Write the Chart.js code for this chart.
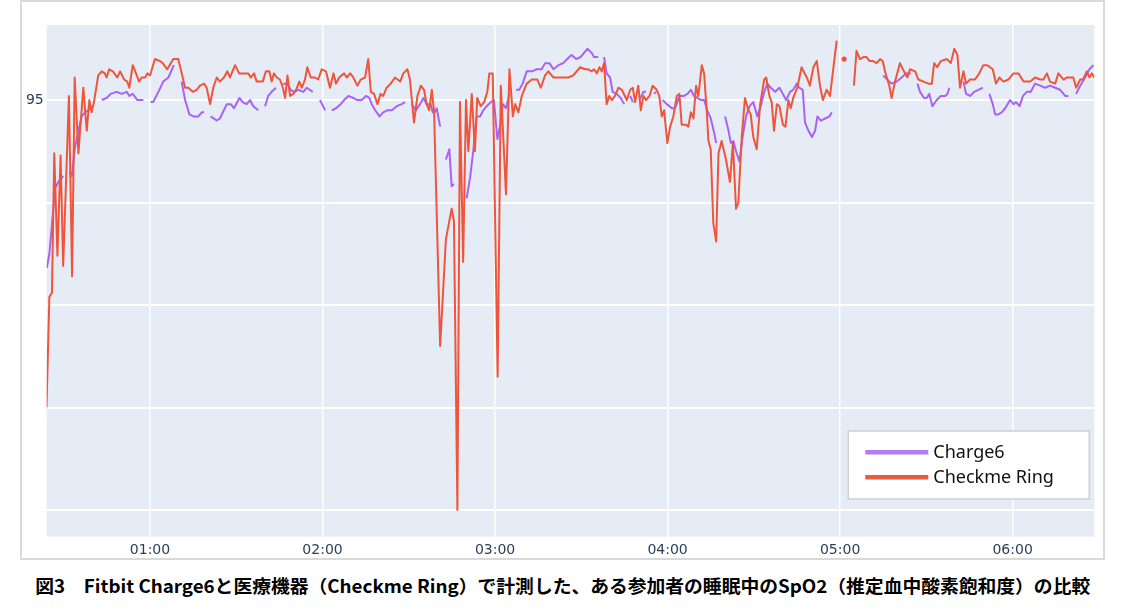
<!DOCTYPE html>
<html>
<head>
<meta charset="utf-8">
<script src="https://cdn.jsdelivr.net/npm/chart.js@4/dist/chart.umd.min.js"></script>
<style>
  html, body { margin: 0; padding: 0; background: #fff; }
  #wrap { position: relative; width: 1125px; height: 610px; overflow: hidden; }
  #chart { position: absolute; left: 0; top: 0; }
  #frame { position: absolute; left: 20px; top: 0; width: 1081px; height: 556px; border: 2px solid #d9d9d9; pointer-events: none; }
  #caption { position: absolute; left: 0; top: 573px; width: 1125px; text-align: center; line-height: 24px;
             font-family: "Noto Sans CJK JP", sans-serif; font-weight: 700; font-size: 18px; color: #000; white-space: nowrap; }
  #caption span { display: inline-block; transform-origin: center center; }
</style>
</head>
<body>
<div id="wrap">
  <canvas id="chart" width="1125" height="560"></canvas>
  <div id="frame"></div>
  <div id="caption"><span id="captionText">図3　Fitbit Charge6と医療機器（Checkme Ring）で計測した、ある参加者の睡眠中のSpO2（推定血中酸素飽和度）の比較</span></div>
</div>
<script>
// minutes after midnight, SpO2 (%) ; null = no reading
var checkmeTime = [
  24.0,25.0,25.9,26.7,27.8,28.9,29.8,31.8,32.9,33.8,
  35.1,36.8,38.0,38.9,39.7,40.5,42.0,43.2,44.3,44.9,
  45.8,47.1,48.6,49.6,51.0,52.1,52.8,54.0,55.4,56.2,
  57.1,58.3,59.1,60.0,61.7,63.5,64.4,66.0,68.1,69.8,
  70.7,72.2,73.3,74.9,76.2,77.4,78.8,79.7,80.9,82.0,
  83.2,84.3,85.7,86.9,87.8,89.6,91.0,92.7,94.2,95.0,
  96.2,97.1,99.2,100.3,101.5,102.3,103.1,104.1,105.2,106.2,
  107.0,107.8,108.7,109.8,110.8,111.9,112.8,113.9,114.7,115.9,
  117.4,118.5,119.7,121.2,122.6,123.8,124.7,125.8,127.5,128.4,
  129.6,130.7,132.1,133.3,134.8,135.9,136.8,137.9,139.1,140.2,
  141.1,142.3,143.7,145.2,147.0,148.1,149.5,150.4,151.8,153.0,
  154.2,155.3,156.2,157.1,158.0,158.8,160.9,162.9,164.9,165.7,
  166.9,167.8,168.9,169.9,170.7,171.9,173.0,173.8,175.0,176.2,
  177.3,178.0,179.2,180.9,182.0,183.8,185.0,186.2,187.0,188.1,
  189.3,191.0,192.8,194.7,195.9,197.4,198.5,200.3,202.0,203.7,
  205.5,207.2,209.6,211.3,212.4,213.6,214.4,215.4,216.3,217.1,
  217.9,218.8,219.7,220.6,221.7,222.9,224.1,225.8,227.0,227.9,
  228.7,229.8,230.7,231.6,232.5,233.7,234.8,236.2,237.1,238.0,
  238.8,239.9,240.9,242.0,243.2,244.1,244.9,246.4,247.2,248.1,
  249.0,249.9,250.7,251.9,252.7,253.6,254.2,255.0,255.9,256.9,
  257.7,258.8,260.3,261.7,262.7,263.8,264.6,265.8,266.9,268.1,
  268.9,269.8,271.0,272.2,273.6,274.3,275.4,276.2,277.0,278.0,
  278.9,280.1,281.0,282.0,282.8,283.7,285.1,286.6,288.4,289.5,
  290.7,291.9,293.0,294.0,295.3,296.5,298.8,300.1,301.4,303.1,
  304.8,305.7,306.9,308.3,309.2,310.2,311.5,312.7,313.9,314.8,
  315.6,317.1,317.9,319.1,320.8,322.2,323.4,324.3,326.1,327.2,
  329.0,330.7,331.9,332.7,333.8,335.0,337.1,338.5,339.7,340.8,
  341.7,342.9,343.8,345.2,346.9,348.4,349.8,351.2,353.1,354.2,
  355.4,356.8,358.5,360.3,362.0,363.8,366.1,367.8,369.6,370.7,
  371.9,373.0,374.8,375.9,377.7,378.9,381.1,382.1,383.5,384.5,
  385.8,386.7,387.5,388.4
];
var checkmeSpO2 = [
  80.0,85.4,85.6,92.4,87.4,92.3,86.9,95.2,86.4,96.1,
  92.4,95.6,93.5,95.0,94.4,94.9,96.2,96.4,96.3,96.1,
  96.5,96.4,96.1,96.4,96.0,95.9,95.6,96.7,96.2,95.9,
  96.1,96.1,96.3,96.2,97.0,96.9,96.8,96.5,97.0,97.0,
  96.5,95.6,95.6,95.4,95.5,95.7,95.8,95.6,94.8,95.6,
  96.1,95.9,96.1,96.4,96.1,96.7,96.3,96.3,96.3,96.1,
  96.3,95.9,95.9,96.4,96.4,95.9,96.3,96.1,96.0,95.6,
  95.1,96.2,95.2,95.3,95.5,95.9,95.6,96.0,96.6,96.1,
  96.1,96.0,96.5,96.4,95.6,96.3,95.8,96.1,96.3,96.1,
  96.3,96.1,95.7,96.0,96.1,97.0,95.4,95.3,94.8,95.3,
  95.2,95.6,95.8,96.1,95.9,96.3,96.5,96.0,93.9,95.2,
  95.7,95.5,94.8,94.5,95.5,94.4,83.0,88.2,89.7,89.1,
  75.0,94.9,87.1,95.0,92.5,95.3,92.5,95.1,94.7,94.9,
  95.4,96.3,96.3,81.5,95.7,90.4,96.5,94.2,94.8,94.4,
  95.2,95.8,96.0,96.0,95.6,96.2,96.4,96.1,96.1,96.1,
  96.1,96.2,96.6,96.5,96.5,96.4,96.5,96.3,96.6,96.4,
  96.8,94.8,95.2,95.0,95.2,95.6,95.5,95.0,95.5,95.6,
  94.9,95.7,94.5,95.2,95.0,95.2,95.7,95.5,95.2,94.2,
  94.5,92.9,93.7,94.2,95.2,95.3,93.8,93.8,93.7,94.4,
  94.1,95.7,95.2,96.7,96.3,94.5,93.0,92.6,89.0,88.1,
  92.4,93.0,92.1,91.0,92.9,89.7,90.0,93.2,95.1,94.5,
  94.3,93.2,92.6,94.8,96.0,96.1,95.2,94.9,93.5,94.8,
  94.7,93.8,93.7,95.0,94.6,95.1,95.6,96.6,96.1,95.7,
  96.6,96.9,95.7,95.0,95.5,95.2,97.9,null,97.0,null,
  95.7,97.4,97.0,97.1,97.1,96.9,96.9,96.8,97.0,96.9,
  96.4,95.7,95.1,95.9,96.8,96.4,96.1,96.5,96.4,96.0,
  95.9,95.8,95.8,96.8,96.6,96.9,97.0,96.8,97.5,97.2,
  95.6,96.4,95.8,96.0,96.0,96.3,96.7,96.7,96.5,95.8,
  96.1,95.9,96.0,96.3,96.3,95.9,95.9,96.1,96.0,96.0,
  96.3,95.9,95.8,96.3,96.0,96.1,96.1,95.6,96.0,96.0,
  96.4,96.1,96.3,96.1
];

var chargeTime = [
  24.1,25.0,27.0,28.1,29.3,29.8,30.9,31.9,32.8,33.9,
  35.1,36.2,37.4,38.5,39.7,41.5,43.2,44.9,46.3,48.4,
  50.2,51.9,52.8,54.0,55.6,57.7,59.0,60.2,61.1,62.9,
  64.6,66.4,68.3,69.7,71.0,72.2,73.7,75.1,76.8,78.0,
  78.8,80.0,81.1,83.2,84.3,86.7,88.1,89.2,91.1,92.2,
  93.6,94.8,95.9,97.7,98.9,100.0,101.1,102.3,103.8,105.0,
  106.2,107.8,108.9,110.1,111.6,113.3,114.5,116.6,117.9,119.1,
  120.9,122.0,123.2,124.7,126.3,127.5,129.0,130.7,132.1,133.6,
  135.1,136.3,137.1,138.3,139.8,141.1,142.5,144.1,145.8,147.5,
  148.7,149.8,151.0,152.5,153.9,155.1,156.2,157.6,158.3,159.0,
  159.7,160.9,161.9,162.9,164.1,164.9,165.7,168.0,170.1,171.3,
  172.4,173.6,174.8,175.9,177.1,178.5,179.6,180.8,181.7,182.7,
  183.8,185.0,186.1,187.3,188.4,189.6,191.0,192.8,194.5,196.2,
  197.4,198.9,200.3,202.0,203.7,205.8,206.6,208.2,209.8,212.1,
  213.6,214.4,215.9,216.9,217.9,218.8,220.0,220.9,222.3,223.7,
  224.9,226.0,227.0,227.9,229.0,230.2,231.6,232.5,233.9,235.3,
  236.0,237.2,238.3,239.7,241.5,242.6,243.4,244.1,245.7,246.9,
  248.1,249.2,250.4,251.6,252.7,253.8,255.0,256.2,256.9,258.5,
  260.0,261.2,262.0,262.9,263.8,265.0,266.1,267.3,268.5,269.8,
  271.2,272.4,273.6,274.7,275.9,277.4,278.9,280.1,281.2,282.6,
  283.7,284.9,285.8,287.0,287.8,289.0,290.2,291.3,292.1,293.3,
  294.8,296.3,297.1,306.0,315.0,316.4,317.9,319.7,321.4,322.9,
  324.6,325.8,326.9,327.8,329.2,330.1,331.0,332.1,333.6,335.0,
  336.5,337.3,338.0,340.5,342.9,343.8,345.2,346.6,348.1,349.6,
  350.8,351.9,353.1,353.9,355.0,356.2,357.4,359.1,360.3,361.2,
  362.4,363.6,364.9,366.3,367.8,369.6,371.3,373.0,374.8,376.5,
  378.3,379.4,380.8,382.1,383.5,385.2,386.7,388.1
];
var chargeSpO2 = [
  86.8,87.5,90.7,91.0,91.2,91.3,null,91.5,91.3,92.7,
  93.5,94.2,94.4,94.5,94.7,null,95.0,95.1,95.3,95.4,
  95.3,95.4,95.2,95.3,95.0,95.0,null,94.9,94.9,95.4,
  95.9,96.1,96.7,null,95.9,95.0,94.3,94.2,94.2,94.4,
  94.4,null,94.2,94.0,94.1,94.8,94.8,94.6,95.1,94.9,
  94.8,95.0,94.7,94.5,null,94.7,95.2,95.4,95.6,null,
  95.8,95.8,95.5,95.4,95.5,95.4,95.6,95.4,null,95.0,
  94.5,null,94.5,94.6,94.8,95.0,95.2,95.1,95.0,95.0,
  95.2,95.1,94.8,94.5,94.2,94.4,94.5,94.5,94.7,94.8,
  94.9,null,94.8,94.5,94.8,95.1,94.8,94.8,94.4,94.4,
  94.6,93.7,null,92.1,92.6,90.8,90.9,null,90.2,91.2,
  92.5,94.2,94.2,94.5,94.7,94.9,95.0,93.1,93.7,94.8,
  94.6,95.3,null,95.5,95.5,95.8,96.4,96.4,96.5,96.5,
  96.8,96.8,96.5,96.7,96.8,97.1,97.2,97.0,97.1,97.5,
  97.3,97.1,97.1,null,97.1,96.3,96.1,95.4,95.3,95.1,
  94.8,null,95.2,94.9,null,95.0,95.4,95.4,null,95.3,
  95.4,null,95.0,94.8,94.6,94.6,94.9,95.2,95.2,95.3,
  95.5,95.2,95.1,95.0,95.0,94.5,94.1,93.4,92.9,null,
  94.2,93.5,92.9,93.0,92.5,92.0,93.2,94.2,94.7,94.9,
  94.2,94.7,95.4,95.8,95.6,95.4,95.6,95.3,95.0,95.4,
  95.5,95.8,95.6,95.5,93.9,93.5,93.2,93.5,94.2,94.0,
  94.1,94.2,94.4,null,96.2,96.0,95.8,95.9,96.1,96.3,
  96.3,null,95.8,95.4,95.1,95.1,95.3,94.7,95.0,95.2,
  95.2,95.3,95.6,null,95.9,95.3,95.2,95.4,95.5,95.6,
  null,95.3,94.8,94.3,94.3,94.4,94.6,95.0,94.8,94.9,
  94.7,95.2,95.4,95.4,95.8,95.7,95.6,95.7,95.6,95.5,
  95.2,95.2,null,95.3,95.7,96.1,96.5,96.7
];

var hourTicks = [60, 120, 180, 240, 300, 360];
var spo2Ticks = [75, 80, 85, 90, 95];
var labeledSpo2 = [95];

function toPoints(times, values) {
  return times.map(function (t, i) { return { x: t, y: values[i] }; });
}

// isolated readings get a small dot, everything else is a plain line
function loneDot(ctx) {
  var d = ctx.dataset.data, i = ctx.dataIndex;
  if (!d[i] || d[i].y == null) return 0;
  var prev = d[i - 1], next = d[i + 1];
  var noPrev = !prev || prev.y == null, noNext = !next || next.y == null;
  return (noPrev && noNext) ? 1.6 : 0;
}

var plotBackground = {
  id: 'plotBackground',
  beforeDraw: function (chart) {
    var a = chart.chartArea, c = chart.ctx;
    c.save();
    c.fillStyle = '#E5ECF6';
    c.fillRect(a.left, a.top, a.right - a.left, a.bottom - a.top);
    c.restore();
  }
};

var boxLegend = {
  id: 'boxLegend',
  afterDatasetsDraw: function (chart) {
    var a = chart.chartArea, c = chart.ctx;
    var left = a.right - 246, top = a.bottom - 105.7, w = 241, h = 68;
    c.save();
    c.fillStyle = '#ffffff';
    c.fillRect(left, top, w, h);
    c.strokeStyle = '#cfcfcf';
    c.lineWidth = 1.5;
    c.strokeRect(left, top, w, h);
    var items = [chart.data.datasets[0], chart.data.datasets[1]];
    var legendColors = ['#B17DF4', '#EB5A3E'];
    items.forEach(function (ds, i) {
      var y = top + 21.3 + i * 25;
      c.strokeStyle = legendColors[i];
      c.lineWidth = 4.5;
      c.beginPath();
      c.moveTo(left + 17, y);
      c.lineTo(left + 80, y);
      c.stroke();
      c.fillStyle = '#111111';
      c.font = '18px "Noto Sans"';
      c.textBaseline = 'middle';
      c.fillText(ds.label, left + 85, y + 1);
    });
    c.restore();
  }
};

var chart = new Chart(document.getElementById('chart'), {
  type: 'line',
  data: {
    datasets: [
      {
        label: 'Charge6',
        data: toPoints(chargeTime, chargeSpO2),
        borderColor: '#A862F7',
        backgroundColor: '#A862F7',
        borderWidth: 2,
        borderJoinStyle: 'round',
        pointRadius: loneDot,
        pointHoverRadius: 0,
        spanGaps: false,
        fill: false,
        tension: 0,
        order: 2
      },
      {
        label: 'Checkme Ring',
        data: toPoints(checkmeTime, checkmeSpO2),
        borderColor: '#EF553B',
        backgroundColor: '#EF553B',
        borderWidth: 2,
        borderJoinStyle: 'round',
        pointRadius: loneDot,
        pointHoverRadius: 0,
        spanGaps: false,
        fill: false,
        tension: 0,
        order: 1
      }
    ]
  },
  options: {
    responsive: false,
    animation: false,
    layout: { padding: { left: 0, top: 25, right: 30.7, bottom: 0 } },
    plugins: {
      legend: { display: false },
      tooltip: { enabled: false }
    },
    scales: {
      x: {
        type: 'linear',
        min: 24.07,
        max: 388.4,
        afterFit: function (scale) { scale.height = 23.3; },
        afterBuildTicks: function (scale) {
          scale.ticks = hourTicks.map(function (v) { return { value: v }; });
        },
        grid: { color: '#ffffff', lineWidth: 1.5, drawTicks: false },
        border: { display: false },
        ticks: {
          padding: 5,
          color: '#2a3f5f',
          font: { family: 'DejaVu Sans', size: 14 },
          maxRotation: 0,
          callback: function (v) {
            var h = Math.floor(v / 60), m = v % 60;
            return (h < 10 ? '0' : '') + h + ':' + (m < 10 ? '0' : '') + m;
          }
        }
      },
      y: {
        min: 73.7,
        max: 98.66,
        afterFit: function (scale) { scale.width = 46.7; },
        afterBuildTicks: function (scale) {
          scale.ticks = spo2Ticks.map(function (v) { return { value: v }; });
        },
        grid: { color: '#ffffff', lineWidth: 2, drawTicks: false },
        border: { display: false },
        ticks: {
          padding: 3,
          color: '#2a3f5f',
          font: { family: 'DejaVu Sans', size: 14 },
          callback: function (v) { return labeledSpo2.indexOf(v) !== -1 ? String(v) : ''; }
        }
      }
    }
  },
  plugins: [plotBackground, boxLegend]
});

// squeeze the caption to the width used in the figure
function fitCaption() {
  var s = document.getElementById('captionText');
  s.style.transform = 'none';
  var w = s.getBoundingClientRect().width;
  s.style.transform = 'scaleX(' + (1055 / w) + ')';
}
fitCaption();
if (document.fonts && document.fonts.ready) {
  document.fonts.ready.then(function () { fitCaption(); chart.draw(); });
}
</script>
</body>
</html>
